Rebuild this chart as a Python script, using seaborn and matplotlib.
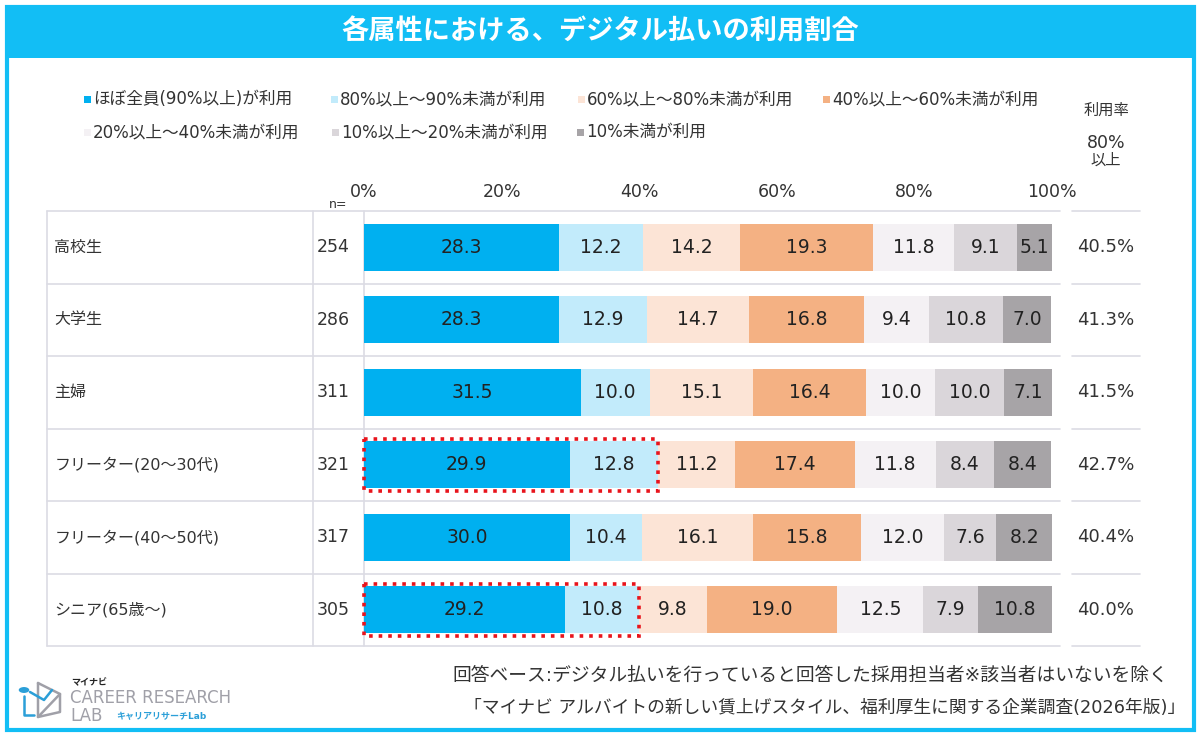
import numpy as np
import pandas as pd
import matplotlib
matplotlib.use('Agg')
import matplotlib.pyplot as plt
from matplotlib.patches import Rectangle, Circle
from matplotlib.lines import Line2D
import seaborn as sns

sns.set_theme(style='white')
plt.rcParams['font.family'] = ['DejaVu Sans', 'Noto Sans CJK JP']

# data
groups = ['高校生', '大学生', '主婦', 'フリーター(20～30代)', 'フリーター(40～50代)', 'シニア(65歳～)']
n_counts = [254, 286, 311, 321, 317, 305]
rates = [40.5, 41.3, 41.5, 42.7, 40.4, 40.0]
seg_names = ['ほぼ全員(90%以上)が利用', '80%以上～90%未満が利用', '60%以上～80%未満が利用',
             '40%以上～60%未満が利用', '20%以上～40%未満が利用', '10%以上～20%未満が利用', '10%未満が利用']
seg1 = [28.3, 28.3, 31.5, 29.9, 30.0, 29.2]
seg2 = [12.2, 12.9, 10.0, 12.8, 10.4, 10.8]
seg3 = [14.2, 14.7, 15.1, 11.2, 16.1, 9.8]
seg4 = [19.3, 16.8, 16.4, 17.4, 15.8, 19.0]
seg5 = [11.8, 9.4, 10.0, 11.8, 12.0, 12.5]
seg6 = [9.1, 10.8, 10.0, 8.4, 7.6, 7.9]
seg7 = [5.1, 7.0, 7.1, 8.4, 8.2, 10.8]
highlight = ['フリーター(20～30代)', 'シニア(65歳～)']

colors = ['#00B0F0', '#C2EBFB', '#FCE4D6', '#F4B183', '#F4F1F4', '#DAD6DA', '#A7A4A7']
line_col = '#DCDCE4'
txt_col = '#333333'
frame_col = '#12BEF5'

segs = np.array([seg1, seg2, seg3, seg4, seg5, seg6, seg7])
cum = np.cumsum(segs, axis=0)
left = cum - segs

W, H = 1200, 734
fig = plt.figure(figsize=(12, 7.34), dpi=100)


def fx(x):
    return x / W


def fy(y):
    return 1 - y / H


# frame and title band
fig.patches.append(Rectangle((fx(7), fy(730)), fx(1187), (723) / H, transform=fig.transFigure,
                             fill=False, edgecolor=frame_col, linewidth=3))
fig.patches.append(Rectangle((fx(6), fy(58)), fx(1188), 52 / H, transform=fig.transFigure,
                             facecolor=frame_col, edgecolor='none'))
fig.text(0.5, fy(32), '各属性における、デジタル払いの利用割合', color='white', fontsize=19.6,
         fontweight='bold', ha='center', va='center', family=['Noto Sans CJK JP', 'DejaVu Sans'])

ax = fig.add_axes([fx(364), fy(646), 688 / W, 435 / H])

df = pd.DataFrame({'group': groups})
for i in range(len(segs) - 1, -1, -1):
    df['cum'] = cum[i]
    sns.barplot(data=df, x='cum', y='group', orient='h', color=colors[i], width=0.65,
                saturation=1, linewidth=0, ax=ax)

for i in range(len(segs)):
    for j in range(len(groups)):
        ax.text(left[i, j] + segs[i, j] / 2, j, f'{segs[i, j]:.1f}', ha='center', va='center',
                fontsize=13.5, color='#222222')

ax.set_xlim(0, 100)
ax.set_ylim(5.5, -0.5)
ax.xaxis.tick_top()
ax.set_xticks(range(0, 101, 20))
ax.set_xticklabels([f'{t}%' for t in range(0, 101, 20)], fontsize=12.5, color=txt_col)
ax.tick_params(axis='x', length=0, pad=7)
ax.set_yticks([])
ax.set_xlabel('')
ax.set_ylabel('')
for s in ax.spines.values():
    s.set_visible(False)

# table grid
for y in np.arange(-0.5, 6, 1):
    ax.plot([-46.1, 101.2], [y, y], color=line_col, lw=1.2, clip_on=False, zorder=0)
    ax.plot([102.9, 112.8], [y, y], color=line_col, lw=1.2, clip_on=False, zorder=0)
for x in [-46.1, -7.4, 0]:
    ax.plot([x, x], [-0.5, 5.5], color=line_col, lw=1.2, clip_on=False, zorder=0)

for j, g in enumerate(groups):
    ax.text(-45.0, j, g, ha='left', va='center', fontsize=11.5, color=txt_col, clip_on=False)
    ax.text(-4.5, j, str(n_counts[j]), ha='center', va='center', fontsize=12.5, color=txt_col)
    ax.text(107.8, j, f'{rates[j]:.1f}%', ha='center', va='center', fontsize=13, color=txt_col)
    if g in highlight:
        ax.add_patch(Rectangle((0, j - 0.36), seg1[j] + seg2[j], 0.72, fill=False,
                               edgecolor='#E8141C', linestyle=':', linewidth=2.6, clip_on=False,
                               zorder=5))

fig.text(fx(338), fy(204), 'n=', fontsize=9, color=txt_col, ha='center', va='center')
fig.text(fx(1106), fy(110), '利用率', fontsize=11, color=txt_col, ha='center', va='center')
fig.text(fx(1106), fy(143), '80%', fontsize=12.5, color=txt_col, ha='center', va='center')
fig.text(fx(1106), fy(160), '以上', fontsize=11, color=txt_col, ha='center', va='center')

# legend
leg_pos = [(84, 99), (331, 99), (578, 99), (823, 99), (84, 132), (332, 132), (577, 132)]
for (lx, ly), name, c in zip(leg_pos, seg_names, colors):
    fig.patches.append(Rectangle((fx(lx), fy(ly + 4)), 7 / W, 7 / H, transform=fig.transFigure,
                                 facecolor=c, edgecolor='none'))
    fig.text(fx(lx + 9), fy(ly), name, fontsize=12, color=txt_col, ha='left', va='center')

# footer
fig.text(fx(1168), fy(675), '回答ベース:デジタル払いを行っていると回答した採用担当者※該当者はいないを除く',
         fontsize=13.5, color=txt_col, ha='right', va='center')
fig.text(fx(1185), fy(708), '「マイナビ アルバイトの新しい賃上げスタイル、福利厚生に関する企業調査(2026年版)」',
         fontsize=12.8, color=txt_col, ha='right', va='center')

# logo
fig.patches.append(Circle((fx(24), fy(690)), 6 / W, transform=fig.transFigure, facecolor='#2B9FD8'))
for xs, ys, c in [([24, 24, 34], [696, 715, 715], '#2B9FD8'),
                  ([38, 60, 60, 38, 38], [683, 694, 712, 717, 683], '#A0A0A8'),
                  ([38, 60], [717, 694], '#A0A0A8'),
                  ([30, 44, 52], [692, 700, 690], '#2B9FD8')]:
    fig.lines.append(Line2D([fx(v) for v in xs], [fy(v) for v in ys], transform=fig.transFigure,
                            color=c, lw=1.8))
fig.text(fx(71), fy(683), 'マイナビ', fontsize=6.5, fontweight='bold', color='#222222', va='center')
fig.text(fx(70), fy(698), 'CAREER RESEARCH', fontsize=12, color='#A0A0A8', va='center')
fig.text(fx(70), fy(716), 'LAB', fontsize=12, color='#A0A0A8', va='center')
fig.text(fx(116), fy(717), 'キャリアリサーチLab', fontsize=6.5, fontweight='bold', color='#2B9FD8',
         va='center')

fig.savefig('out.png', dpi=100, facecolor='white')
